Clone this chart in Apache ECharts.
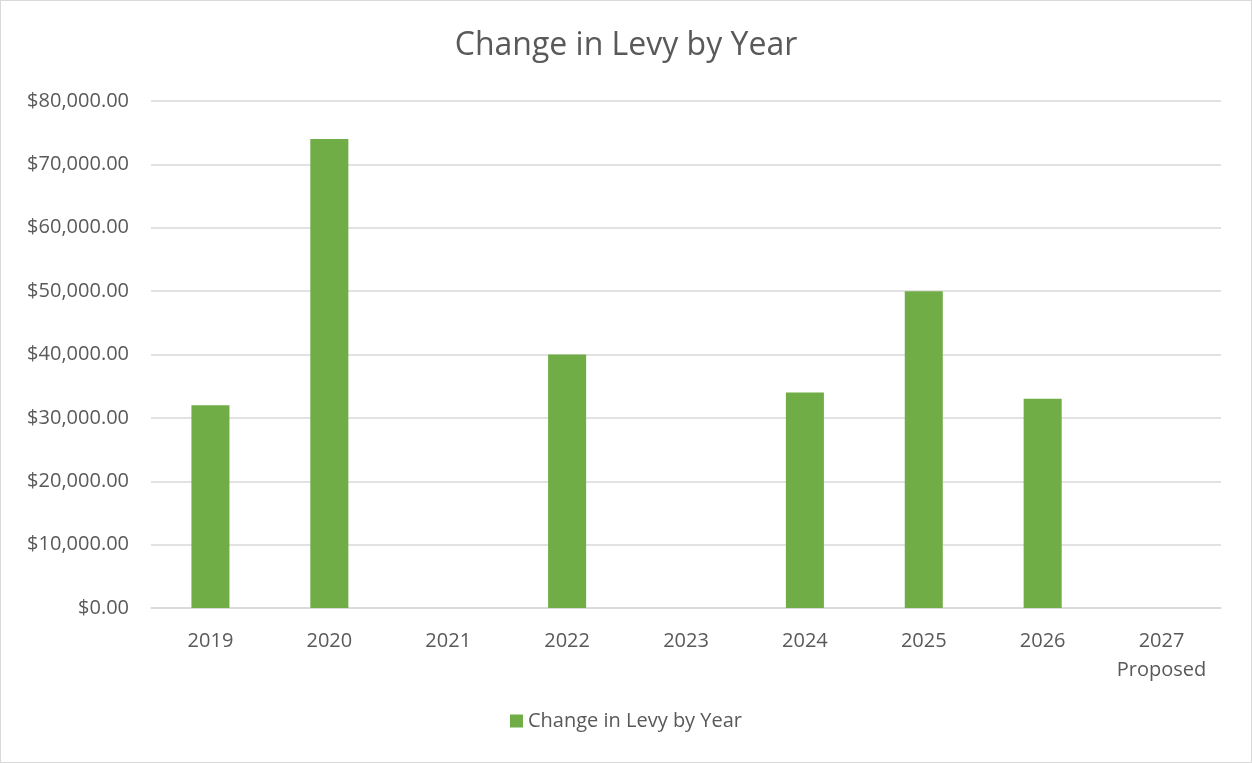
<!DOCTYPE html>
<html>
<head>
<meta charset="utf-8">
<script src="https://cdn.jsdelivr.net/npm/echarts@6/dist/echarts.min.js"></script>
<style>
html,body{margin:0;padding:0;background:#fff;}
#chart{position:absolute;left:0;top:0;width:1250px;height:761px;border:1px solid #d9d9d9;}
</style>
</head>
<body>
<div id="chart"></div>
<script>
const categories = ['2019','2020','2021','2022','2023','2024','2025','2026','2027\nProposed'];
const levyChange = [32000, 74000, 0, 40000, 0, 34000, 50000, 33000, 0];
const seriesName = 'Change in Levy by Year';
const titleText = 'Change in Levy by Year';

const chart = echarts.init(document.getElementById('chart'));
const font = 'Open Sans';
chart.setOption({
  animation: false,
  title: {
    text: titleText,
    left: 'center',
    top: 24,
    textStyle: {fontFamily: font, fontSize: 32, fontWeight: 'normal', color: '#595959'}
  },
  legend: {
    bottom: 26,
    left: 'center',
    itemWidth: 13,
    itemHeight: 13,
    itemGap: 6,
    icon: 'rect',
    textStyle: {fontFamily: font, fontSize: 20, color: '#595959'},
    data: [seriesName]
  },
  grid: {left: 150, right: 30, top: 100, bottom: 154, containLabel: false},
  xAxis: {
    type: 'category',
    data: categories,
    axisLine: {lineStyle: {color: '#d9d9d9', width: 1.5}},
    axisTick: {show: false},
    axisLabel: {fontFamily: font, fontSize: 20, color: '#595959', margin: 19, lineHeight: 29}
  },
  yAxis: {
    type: 'value',
    min: 0, max: 80000, interval: 10000,
    axisLine: {show: false},
    axisTick: {show: false},
    splitLine: {lineStyle: {color: '#d9d9d9', width: 1.5}},
    axisLabel: {
      fontFamily: font, fontSize: 20, color: '#595959', margin: 22,
      formatter: v => '$' + v.toLocaleString('en-US', {minimumFractionDigits: 2, maximumFractionDigits: 2})
    }
  },
  series: [{
    name: seriesName,
    type: 'bar',
    data: levyChange,
    barWidth: '32%',
    itemStyle: {color: '#70ad47'}
  }]
});
</script>
</body>
</html>
